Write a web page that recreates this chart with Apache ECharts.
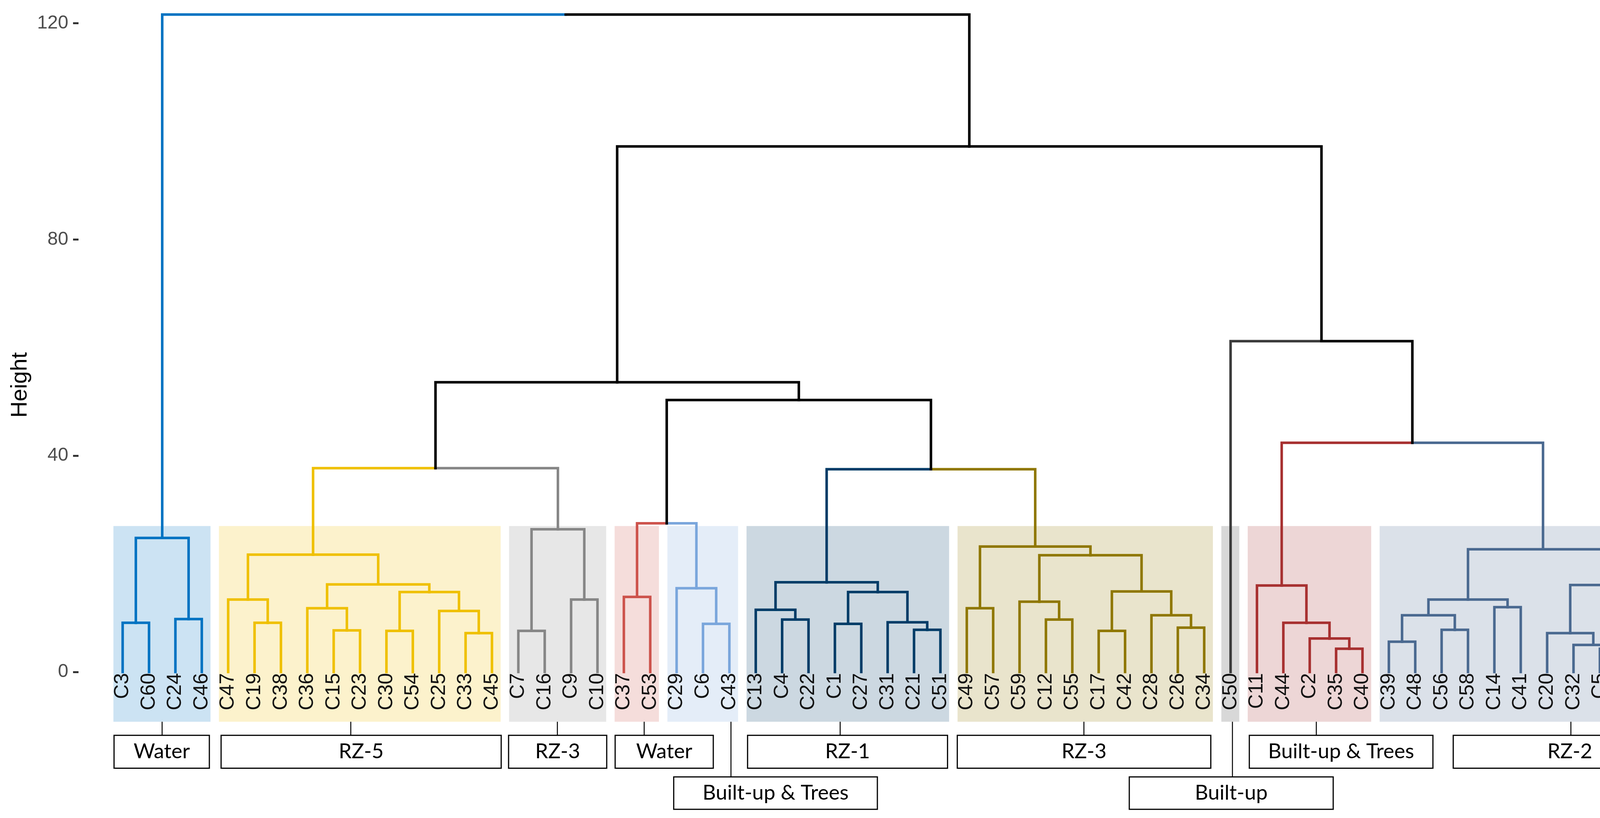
<!DOCTYPE html>
<html>
<head>
<meta charset="utf-8">
<script src="https://cdn.jsdelivr.net/npm/echarts@6/dist/echarts.min.js"></script>
<style>
html,body{margin:0;padding:0;background:#fff;}
#chart{width:4346px;height:2095px;}
</style>
</head>
<body>
<div id="chart"></div>
<script>
// ---------------- DATA ----------------
const leaves = ['C3','C60','C24','C46',
  'C47','C19','C38','C36','C15','C23','C30','C54','C25','C33','C45',
  'C7','C16','C9','C10',
  'C37','C53',
  'C29','C6','C43',
  'C13','C4','C22','C1','C27','C31','C21','C51',
  'C49','C57','C59','C12','C55','C17','C42','C28','C26','C34',
  'C50',
  'C11','C44','C2','C35','C40',
  'C39','C48','C56','C58','C14','C41','C20','C32','C5','C52','C8','C18'];

// merges: [node id, left child, right child, height]
const merges = [
  ['w1','C3','C60',9.1], ['w2','C24','C46',9.8], ['W','w1','w2',24.8],
  ['y1','C19','C38',9.1], ['y2','C47','y1',13.4], ['y3','C15','C23',7.7], ['y4','C36','y3',11.8],
  ['y5','C30','C54',7.6], ['y6','C33','C45',7.2], ['y7','C25','y6',11.3], ['y8','y5','y7',14.8],
  ['y9','y4','y8',16.2], ['Y','y2','y9',21.7],
  ['g1','C7','C16',7.6], ['g2','C9','C10',13.4], ['G','g1','g2',26.4],
  ['YG','Y','G',37.7],
  ['R','C37','C53',13.9],
  ['l1','C6','C43',8.9], ['L','C29','l1',15.5],
  ['RL','R','L',27.5],
  ['n1','C4','C22',9.7], ['n2','C13','n1',11.5], ['n3','C1','C27',8.9], ['n4','C21','C51',7.8],
  ['n5','C31','n4',9.2], ['n6','n3','n5',14.8], ['N','n2','n6',16.6],
  ['o1','C49','C57',11.8], ['o2','C12','C55',9.7], ['o3','C59','o2',13.0], ['o4','C17','C42',7.6],
  ['o5','C26','C34',8.2], ['o6','C28','o5',10.5], ['o7','o4','o6',14.9], ['o8','o3','o7',21.6],
  ['O','o1','o8',23.2],
  ['NO','N','O',37.5],
  ['RLNO','RL','NO',50.3],
  ['A','YG','RLNO',53.6],
  ['d1','C35','C40',4.3], ['d2','C2','d1',6.2], ['d3','C44','d2',9.1], ['D','C11','d3',16.0],
  ['s1','C39','C48',5.6], ['s2','C56','C58',7.8], ['s3','s1','s2',10.5], ['s4','C14','C41',12.0],
  ['s5','s3','s4',13.4], ['s6','C5','C52',4.3], ['s7','C32','s6',5.0], ['s8','C20','s7',7.2],
  ['s9','C8','C18',7.4], ['s10','s8','s9',16.1], ['S','s5','s10',22.7],
  ['DS','D','S',42.4],
  ['B','C50','DS',61.2],
  ['T','A','B',97.2],
  ['ROOT','W','T',121.6]
];

// clusters in leaf order: number of leaves and group label
const clusterSizes = [4, 11, 4, 2, 3, 8, 10, 1, 5, 12];
const clusterLabels = ['Water','RZ-5','RZ-3','Water','Built-up & Trees','RZ-1','RZ-3','Built-up','Built-up & Trees','RZ-2'];

// y-axis tick labels
const yTicks = [0, 40, 80, 120];

// ---------------- STYLE / LAYOUT ----------------
const clusterColors = ['#0073C2','#EFC000','#868686','#CD534C','#7AA6DC','#003C67','#8F7700','#3B3B3B','#A73030','#4A6990'];
// label box layout in leaf-index units: [left, right, connector x, row]
const boxLayout = [
  [0.674, 4.287, 2.496, 0],
  [4.732, 15.35, 9.648, 0],
  [15.63, 19.35, 17.48, 0],
  [19.67, 23.39, 20.77, 0],
  [21.89, 29.61, 24.06, 1],
  [24.69, 32.27, 28.20, 0],
  [32.64, 42.25, 37.44, 0],
  [39.16, 46.89, 43.07, 1],
  [43.71, 50.67, 46.25, 0],
  [51.44, 60.28, 55.90, 0]
];
const rowTop = [-11.7, -19.4], rowBottom = [-17.8, -25.4];
const shadeTop = 27.0, shadeBottom = -9.2;

// ---------------- BUILD TREE ----------------
const pos = {}, height = {}, cluster = {};
let ci = 0, cnt = 0;
leaves.forEach((l, i) => {
  pos[l] = i + 1; height[l] = 0; cluster[l] = ci;
  cnt++; if (cnt === clusterSizes[ci]) { ci++; cnt = 0; }
});
const segs = [];
merges.forEach(([id, a, b, h]) => {
  pos[id] = (pos[a] + pos[b]) / 2;
  height[id] = h;
  cluster[id] = (cluster[a] !== null && cluster[a] === cluster[b]) ? cluster[a] : null;
  [a, b].forEach(c => {
    segs.push({ v: [pos[id], h, pos[c], height[c]], color: cluster[c] === null ? '#000000' : clusterColors[cluster[c]] });
  });
});
const clusterRanges = [];
let start = 1;
clusterSizes.forEach(s => { clusterRanges.push([start, start + s - 1]); start += s; });

const rgba = (hex, a) => {
  const n = parseInt(hex.slice(1), 16);
  return `rgba(${(n >> 16) & 255},${(n >> 8) & 255},${n & 255},${a})`;
};

// ---------------- CHART ----------------
const chart = echarts.init(document.getElementById('chart'), null, { renderer: 'canvas' });
const option = {
  animation: false,
  backgroundColor: '#ffffff',
  grid: { left: 201, right: 6, top: 4, bottom: 0, containLabel: false, outerBoundsMode: 'none' },
  xAxis: { type: 'value', min: -0.673, max: 60.617, show: false },
  yAxis: {
    type: 'value', min: -27, max: 124,
    axisLine: { show: false, onZero: false },
    splitLine: { show: false },
    axisTick: { show: true, customValues: yTicks, length: 14, lineStyle: { color: '#333333', width: 5 } },
    axisLabel: { customValues: yTicks, margin: 26, fontSize: 48, color: '#4D4D4D', fontFamily: 'Liberation Sans, Arial, sans-serif' }
  },
  graphic: [{
    type: 'text', x: 52, y: 986, rotation: Math.PI / 2,
    style: { text: 'Height', fontSize: 58, fontFamily: 'Liberation Sans, Arial, sans-serif', fill: '#000', align: 'center', verticalAlign: 'middle', textAlign: 'center', textVerticalAlign: 'middle' }
  }],
  series: [
    { // cluster shading
      type: 'custom', silent: true, clip: false, z: 1,
      data: clusterRanges.map(r => [r[0], r[1]]),
      renderItem: (params, api) => {
        const p1 = api.coord([api.value(0) - 0.35, shadeTop]);
        const p2 = api.coord([api.value(1) + 0.33, shadeBottom]);
        return { type: 'rect', shape: { x: p1[0], y: p1[1], width: p2[0] - p1[0], height: p2[1] - p1[1] },
          style: { fill: rgba(clusterColors[params.dataIndex], 0.2) } };
      }
    },
    { // dendrogram branches
      type: 'custom', silent: true, clip: false, z: 3,
      data: segs.map(s => s.v),
      renderItem: (params, api) => {
        const a = api.coord([api.value(0), api.value(1)]);
        const b = api.coord([api.value(2), api.value(1)]);
        const c = api.coord([api.value(2), api.value(3)]);
        return { type: 'polyline', shape: { points: [a, b, c] },
          style: { stroke: segs[params.dataIndex].color, lineWidth: 6.5, fill: null, lineJoin: 'miter', lineCap: 'square' } };
      }
    },
    { // leaf labels
      type: 'custom', silent: true, clip: false, z: 4,
      data: leaves.map((l, i) => [i + 1, -0.2]),
      renderItem: (params, api) => {
        const p = api.coord([api.value(0), api.value(1)]);
        return { type: 'text', x: p[0], y: p[1], rotation: Math.PI / 2,
          style: { text: leaves[params.dataIndex], fontSize: 52, fontFamily: 'Liberation Sans, Arial, sans-serif', fill: '#111111',
            align: 'right', verticalAlign: 'middle', textAlign: 'right', textVerticalAlign: 'middle' } };
      }
    },
    { // group label boxes
      type: 'custom', silent: true, clip: false, z: 5,
      data: boxLayout.map(b => [b[0], b[1], b[2], b[3]]),
      renderItem: (params, api) => {
        const row = api.value(3);
        const c1 = api.coord([api.value(2), shadeBottom]);
        const c2 = api.coord([api.value(2), rowTop[row]]);
        const p1 = api.coord([api.value(0), rowTop[row]]);
        const p2 = api.coord([api.value(1), rowBottom[row]]);
        return { type: 'group', children: [
          { type: 'line', shape: { x1: c1[0], y1: c1[1], x2: c2[0], y2: c2[1] }, style: { stroke: '#000', lineWidth: 2.5 } },
          { type: 'rect', shape: { x: p1[0], y: p1[1], width: p2[0] - p1[0], height: p2[1] - p1[1] },
            style: { fill: '#ffffff', stroke: '#000', lineWidth: 3 } },
          { type: 'text', x: (p1[0] + p2[0]) / 2, y: (p1[1] + p2[1]) / 2,
            style: { text: clusterLabels[params.dataIndex], fontSize: 53, fontFamily: 'Lato, Open Sans, sans-serif', fill: '#000',
              align: 'center', verticalAlign: 'middle', textAlign: 'center', textVerticalAlign: 'middle' } }
        ] };
      }
    }
  ]
};
chart.setOption(option);
</script>
</body>
</html>
